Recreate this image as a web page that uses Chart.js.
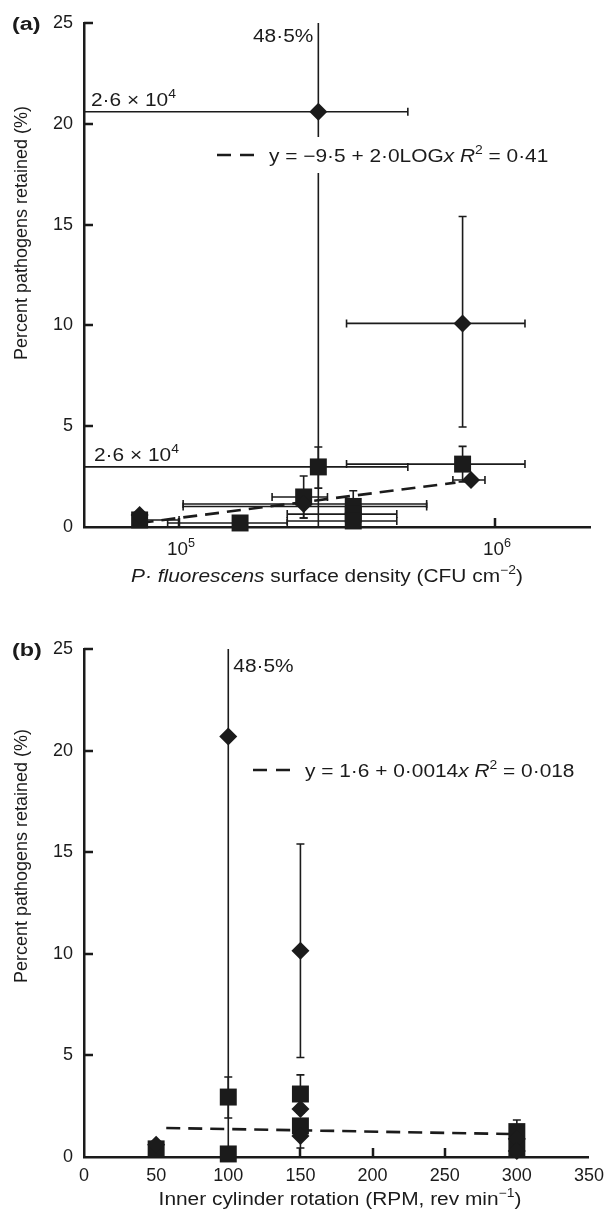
<!DOCTYPE html>
<html>
<head>
<meta charset="utf-8">
<script src="https://cdn.jsdelivr.net/npm/chart.js@4.4.1/dist/chart.umd.min.js"></script>
<style>
body { margin: 0; background: #fff; }
.panel { position: relative; width: 612px; height: 608px; }
</style>
</head>
<body>
<div class="panel"><canvas id="js--chart-a" width="612" height="608"></canvas></div>
<div class="panel"><canvas id="js--chart-b" width="612" height="608"></canvas></div>
<script>
const ink = "#1b1b1b";
const fontFamily = "'Liberation Sans', Arial, Helvetica, sans-serif";
const wide = 1.16; // the printed labels are a bit wider than Arial

// (a) surface density, log x axis
const aTicks = [1e5, 1e6];
const aTickExp = ["5", "6"];
const aDiaX   = [2.76e5, 7.9e5, 8.4e5, 2.48e5, 7.5e4];
const aDiaY   = [20.6, 10.1, 2.33, 1.14, 0.6];
const aDiaXLo = [2.6e4, 3.39e5, 7.36e5, 1.03e5, null];
const aDiaXHi = [5.3e5, 1.245e6, 9.3e5, 6.08e5, null];
const aDiaYLo = [-7.3, 4.96, null, 0.45, null];
const aDiaYHi = [48.5, 15.4, null, null, null];

const aSqX   = [2.76e5, 7.9e5, 2.48e5, 3.56e5, 3.56e5, 3.56e5, 1.56e5, 7.5e4];
const aSqY   = [2.98, 3.12, 1.49, 1.02, 0.64, 0.3, 0.2, 0.35];
const aSqXLo = [2.6e4, 3.39e5, 1.97e5, 1.03e5, 2.2e5, 2.2e5, 9.2e4, null];
const aSqXHi = [5.3e5, 1.245e6, 2.95e5, 6.08e5, 4.89e5, 4.89e5, 2.2e5, 1.0e5];
const aSqYLo = [1.93, 2.24, 0.45, 0.5, null, null, null, null];
const aSqYHi = [3.97, 4.0, 2.53, 1.8, null, null, null, null];

const aFitX = [7.5e4, 7.5e5];
const aFitY = [0.2, 2.2];

// (b) inner cylinder rotation
const bDiaX   = [50, 100, 150, 150, 150, 300, 300];
const bDiaY   = [0.6, 20.7, 10.15, 2.36, 1.03, 0.9, 0.3];
const bDiaYLo = [null, -7.1, 4.9, null, 0.44, null, null];
const bDiaYHi = [null, 48.5, 15.4, null, null, null, null];

const bSqX   = [50, 100, 100, 150, 150, 300, 300];
const bSqY   = [0.4, 2.95, 0.15, 3.1, 1.53, 1.25, 0.45];
const bSqYLo = [null, 1.92, null, 2.16, null, 0.7, null];
const bSqYHi = [null, 3.94, null, 4.04, null, 1.82, null];

const bFitX = [57, 303];
const bFitY = [1.43, 1.12];

const yTickStep = 5;

function pts(xs, ys) {
    return xs.map(function(x, i) { return { x: x, y: ys[i] }; });
}

function markers(xs, ys, style, r, err) {
    return {
        data: pts(xs, ys),
        pointStyle: style,
        pointRadius: r,
        pointHoverRadius: r,
        backgroundColor: ink,
        borderColor: ink,
        borderWidth: 0,
        showLine: false,
        clip: false,
        err: err
    };
}

function fitLine(xs, ys) {
    return {
        data: pts(xs, ys),
        showLine: true,
        borderColor: ink,
        borderWidth: 2.6,
        borderDash: [14, 8],
        pointRadius: 0,
        fill: false
    };
}

// text with italic / bold / superscript pieces, stretched sideways by k
function richText(ctx, runs, x, y, align, size, k) {
    size = size || 18;
    k = k || wide;
    function font(s) {
        let f = s === "i" ? "italic " : s === "b" ? "bold " : "";
        return f + (s === "sup" ? Math.round(size * 0.68) : size) + "px " + fontFamily;
    }
    let w = 0;
    runs.forEach(function(r) { ctx.font = font(r[1]); w += ctx.measureText(r[0]).width; });
    let cx = align === "center" ? -w / 2 : align === "right" ? -w : 0;
    ctx.save();
    ctx.translate(x, y);
    ctx.scale(k, 1);
    ctx.textAlign = "left";
    ctx.textBaseline = "alphabetic";
    ctx.fillStyle = ink;
    runs.forEach(function(r) {
        ctx.font = font(r[1]);
        ctx.fillText(r[0], cx, r[1] === "sup" ? -size * 0.42 : 0);
        cx += ctx.measureText(r[0]).width;
    });
    ctx.restore();
}

function yTitle(ctx, cx, cy) {
    ctx.save();
    ctx.translate(cx, cy);
    ctx.rotate(-Math.PI / 2);
    ctx.font = "18px " + fontFamily;
    ctx.fillStyle = ink;
    ctx.textAlign = "center";
    ctx.textBaseline = "middle";
    ctx.fillText("Percent pathogens retained (%)", 0, 0);
    ctx.restore();
}

function legendEntry(ctx, x, y, runs, box) {
    if (box) {
        ctx.fillStyle = "#fff";
        ctx.fillRect(box[0], box[1], box[2], box[3]);
    }
    ctx.save();
    ctx.strokeStyle = ink;
    ctx.lineWidth = 2.6;
    ctx.setLineDash([14, 9]);
    ctx.beginPath();
    ctx.moveTo(x, y);
    ctx.lineTo(x + 37, y);
    ctx.stroke();
    ctx.restore();
    richText(ctx, runs, x + 52, y + 6.5, "left");
}

function capBar(ctx, x0, y0, x1, y1, horiz) {
    ctx.beginPath();
    ctx.moveTo(x0, y0);
    ctx.lineTo(x1, y1);
    if (horiz) {
        ctx.moveTo(x0, y0 - 4);
        ctx.lineTo(x0, y0 + 4);
    } else {
        ctx.moveTo(x0 - 4, y0);
        ctx.lineTo(x0 + 4, y0);
    }
    ctx.stroke();
}

const innerTicks = {
    id: "innerTicks",
    beforeDatasetsDraw(chart) {
        const ctx = chart.ctx, area = chart.chartArea;
        const x = chart.scales.x, y = chart.scales.y;
        ctx.save();
        ctx.strokeStyle = ink;
        ctx.lineWidth = 2.5;
        ctx.beginPath();
        y.ticks.forEach(function(t) {
            if (t.value <= y.min) return;
            const py = Math.round(y.getPixelForValue(t.value));
            ctx.moveTo(area.left, py);
            ctx.lineTo(area.left + 9, py);
        });
        x.ticks.forEach(function(t) {
            if (t.value <= x.min || t.value >= x.max) return;
            const px = Math.round(x.getPixelForValue(t.value));
            ctx.moveTo(px, area.bottom);
            ctx.lineTo(px, area.bottom - 9);
        });
        ctx.stroke();
        ctx.restore();
    }
};

const errorBars = {
    id: "errorBars",
    beforeDatasetsDraw(chart) {
        const ctx = chart.ctx, area = chart.chartArea;
        const x = chart.scales.x, y = chart.scales.y;
        ctx.save();
        ctx.beginPath();
        ctx.rect(area.left + 1, area.top, area.right - area.left, area.bottom - area.top);
        ctx.clip();
        ctx.strokeStyle = ink;
        ctx.lineWidth = 1.6;
        chart.data.datasets.forEach(function(ds) {
            const e = ds.err;
            if (!e) return;
            ds.data.forEach(function(p, i) {
                const px = x.getPixelForValue(p.x), py = y.getPixelForValue(p.y);
                if (e.xLo && e.xLo[i] != null) capBar(ctx, x.getPixelForValue(e.xLo[i]), py, px, py, true);
                if (e.xHi && e.xHi[i] != null) capBar(ctx, x.getPixelForValue(e.xHi[i]), py, px, py, true);
                if (e.yLo && e.yLo[i] != null) capBar(ctx, px, y.getPixelForValue(e.yLo[i]), px, py, false);
                if (e.yHi && e.yHi[i] != null) capBar(ctx, px, y.getPixelForValue(e.yHi[i]), px, py, false);
            });
        });
        ctx.restore();
    }
};

function yScale() {
    return {
        min: 0,
        max: 25,
        grid: { display: false, drawTicks: false },
        border: { display: true, color: ink, width: 2.5 },
        ticks: { stepSize: yTickStep, color: ink, padding: 11, font: { family: fontFamily, size: 18 } },
        afterFit: function(s) { s.width = 84; }
    };
}

function baseOptions(xScale, pad) {
    return {
        responsive: false,
        animation: false,
        events: [],
        layout: { padding: pad },
        plugins: { legend: { display: false }, tooltip: { enabled: false } },
        scales: { x: xScale, y: yScale() }
    };
}

// panel (a)
const notesA = {
    id: "notesA",
    beforeDatasetsDraw(chart) {
        const ctx = chart.ctx;
        const x = chart.scales.x, y = chart.scales.y;
        const topX = x.getPixelForValue(aDiaX[0]);
        richText(ctx, [["48·5%", ""]], topX - 5, 42, "right");
        richText(ctx, [["2·6 × 10", ""], ["4", "sup"]], 91, y.getPixelForValue(aDiaY[0]) - 6, "left");
        richText(ctx, [["2·6 × 10", ""], ["4", "sup"]], 94, y.getPixelForValue(aSqY[0]) - 6, "left");
        legendEntry(ctx, 217, 155,
            [["y = −9·5 + 2·0LOG", ""], ["x", "i"], [" ", ""], ["R", "i"], ["2", "sup"], [" = 0·41", ""]],
            [208, 137, 345, 36]);
    },
    afterDraw(chart) {
        const ctx = chart.ctx;
        const x = chart.scales.x, area = chart.chartArea;
        aTicks.forEach(function(v, i) {
            richText(ctx, [["10", ""], [aTickExp[i], "sup"]], x.getPixelForValue(v) + 2, area.bottom + 28, "center", 18, 1.05);
        });
        richText(ctx, [["(a)", "b"]], 12, 30, "left", 18, 1.3);
        yTitle(ctx, 22, 233);
        richText(ctx, [["P· fluorescens", "i"], [" surface density (CFU cm", ""], ["−2", "sup"], [")", ""]], 327, 582, "center");
    }
};

const chartA = new Chart(document.getElementById("js--chart-a"), {
    type: "scatter",
    data: {
        datasets: [
            markers(aDiaX, aDiaY, "rectRot", 9, { xLo: aDiaXLo, xHi: aDiaXHi, yLo: aDiaYLo, yHi: aDiaYHi }),
            markers(aSqX, aSqY, "rect", 12, { xLo: aSqXLo, xHi: aSqXHi, yLo: aSqYLo, yHi: aSqYHi }),
            fitLine(aFitX, aFitY)
        ]
    },
    options: baseOptions({
        type: "logarithmic",
        min: 5e4,
        max: 2e6,
        grid: { display: false, drawTicks: false },
        border: { display: true, color: ink, width: 2.5 },
        afterBuildTicks: function(s) { s.ticks = aTicks.map(function(v) { return { value: v }; }); },
        ticks: { display: false },
        afterFit: function(s) { s.height = 81; }
    }, { top: 23, right: 22, left: 0, bottom: 0 }),
    plugins: [innerTicks, errorBars, notesA]
});

// panel (b)
const notesB = {
    id: "notesB",
    beforeDatasetsDraw(chart) {
        const ctx = chart.ctx;
        const x = chart.scales.x;
        richText(ctx, [["48·5%", ""]], x.getPixelForValue(bDiaX[1]) + 5, 64, "left");
        legendEntry(ctx, 253, 162,
            [["y = 1·6 + 0·0014", ""], ["x", "i"], [" ", ""], ["R", "i"], ["2", "sup"], [" = 0·018", ""]],
            null);
    },
    afterDraw(chart) {
        const ctx = chart.ctx;
        richText(ctx, [["(b)", "b"]], 12, 48, "left", 18, 1.3);
        yTitle(ctx, 22, 248);
        richText(ctx, [["Inner cylinder rotation (RPM, rev min", ""], ["−1", "sup"], [")", ""]], 340, 597, "center");
    }
};

const chartB = new Chart(document.getElementById("js--chart-b"), {
    type: "scatter",
    data: {
        datasets: [
            markers(bDiaX, bDiaY, "rectRot", 9, { yLo: bDiaYLo, yHi: bDiaYHi }),
            markers(bSqX, bSqY, "rect", 12, { yLo: bSqYLo, yHi: bSqYHi }),
            fitLine(bFitX, bFitY)
        ]
    },
    options: baseOptions({
        type: "linear",
        min: 0,
        max: 350,
        grid: { display: false, drawTicks: false },
        border: { display: true, color: ink, width: 2.5 },
        ticks: { stepSize: 50, color: ink, padding: 8, maxRotation: 0, autoSkip: false, font: { family: fontFamily, size: 18 } },
        afterFit: function(s) { s.height = 59; }
    }, { top: 41, right: 18, left: 0, bottom: 0 }),
    plugins: [innerTicks, errorBars, notesB]
});
</script>
</body>
</html>
